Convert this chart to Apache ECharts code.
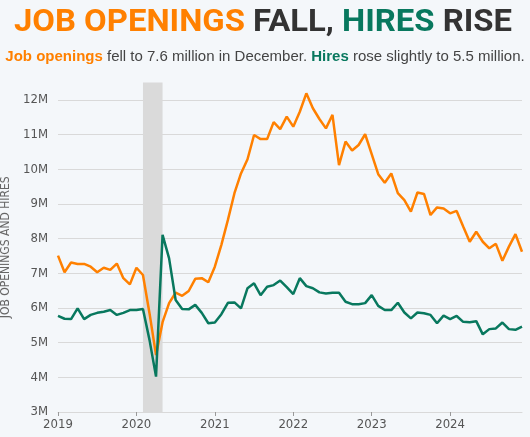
<!DOCTYPE html>
<html>
<head>
<meta charset="utf-8">
<script src="https://cdn.jsdelivr.net/npm/echarts@6/dist/echarts.min.js"></script>
<style>
  html, body { margin: 0; padding: 0; background: #f4f7fa; }
  #chart { width: 530px; height: 437px; }
</style>
</head>
<body>
<div id="chart"></div>
<script>
// monthly, Jan 2019 - Dec 2024
const months = [];
for (let y = 2019; y <= 2024; y++) {
  for (let m = 1; m <= 12; m++) months.push(y + '-' + String(m).padStart(2, '0'));
}

// job openings, millions
const openings = [
  7.51, 7.03, 7.31, 7.27, 7.27, 7.19, 7.03, 7.16, 7.10, 7.28, 6.86, 6.68,
  7.16, 6.95, 5.85, 4.64, 5.59, 6.14, 6.44, 6.35, 6.49, 6.84, 6.86, 6.74,
  7.19, 7.82, 8.54, 9.31, 9.88, 10.29, 10.99, 10.87, 10.87, 11.36, 11.16, 11.52,
  11.23, 11.66, 12.19, 11.76, 11.45, 11.18, 11.57, 10.12, 10.80, 10.54, 10.70, 11.01,
  10.44, 9.86, 9.61, 9.88, 9.31, 9.11, 8.78, 9.33, 9.29, 8.68, 8.90, 8.87,
  8.73, 8.80, 8.35, 7.91, 8.20, 7.91, 7.72, 7.85, 7.36, 7.77, 8.13, 7.62
];

// hires, millions
const hires = [
  5.77, 5.69, 5.68, 5.99, 5.68, 5.80, 5.86, 5.89, 5.94, 5.80, 5.86, 5.94,
  5.94, 5.97, 5.08, 4.02, 8.11, 7.43, 6.23, 5.97, 5.96, 6.09, 5.86, 5.56,
  5.58, 5.82, 6.15, 6.16, 5.99, 6.57, 6.71, 6.37, 6.61, 6.66, 6.79, 6.60,
  6.40, 6.86, 6.63, 6.57, 6.45, 6.42, 6.44, 6.44, 6.18, 6.11, 6.11, 6.14,
  6.37, 6.06, 5.94, 5.94, 6.15, 5.87, 5.70, 5.87, 5.85, 5.80, 5.56, 5.78,
  5.68, 5.77, 5.60, 5.59, 5.62, 5.24, 5.39, 5.41, 5.58, 5.39, 5.37, 5.46
];

const recession = ['2020-02', '2020-05'];

const ORANGE = '#ff8000';
const GREEN = '#08785e';
const DARK = '#333333';
const NARROW = "'DejaVu Sans Condensed', 'Liberation Sans', sans-serif";
const TITLE_FONT = 'Roboto';

// squeeze the headline to the reference width (condensed look)
const titleParts = ['JOB OPENINGS ', 'FALL, ', 'HIRES ', 'RISE'];
const ctx = document.createElement('canvas').getContext('2d');
ctx.font = 'bold 32px ' + TITLE_FONT;
const titleWidth = ctx.measureText(titleParts.join('')).width;
const titleScale = 498 / titleWidth;

const chart = echarts.init(document.getElementById('chart'));
chart.setOption({
  backgroundColor: '#f4f7fa',
  animation: false,
  title: {
    left: 'center',
    top: 44,
    text: '{ob|Job openings} {t|fell to 7.6 million in December.} {gb|Hires} {t|rose slightly to 5.5 million.}',
    textStyle: {
      fontSize: 15,
      fontWeight: 'normal',
      rich: {
        ob: { color: ORANGE, fontWeight: 'bold', fontSize: 15, fontFamily: 'Liberation Sans' },
        gb: { color: GREEN, fontWeight: 'bold', fontSize: 15, fontFamily: 'Liberation Sans' },
        t: { color: '#444', fontWeight: 'normal', fontSize: 15, fontFamily: 'Liberation Sans' }
      }
    }
  },
  graphic: [
    {
      type: 'text',
      x: 263,
      y: 7,
      scaleX: titleScale,
      style: {
        text: '{o|JOB OPENINGS }{d|FALL, }{g|HIRES }{d|RISE}',
        align: 'center',
        verticalAlign: 'top',
        rich: {
          o: { fill: ORANGE, fontFamily: TITLE_FONT, fontWeight: 'bold', fontSize: 32 },
          d: { fill: DARK, fontFamily: TITLE_FONT, fontWeight: 'bold', fontSize: 32 },
          g: { fill: GREEN, fontFamily: TITLE_FONT, fontWeight: 'bold', fontSize: 32 }
        }
      }
    }
  ],
  grid: { left: 58, right: 8, top: 82.6, bottom: 25, outerBoundsMode: 'none', containLabel: false },
  xAxis: {
    type: 'category',
    data: months,
    boundaryGap: false,
    axisLine: { lineStyle: { color: '#d9d9d9' } },
    axisTick: {
      interval: (i) => i % 12 === 0,
      length: 4,
      lineStyle: { color: '#999' }
    },
    axisLabel: {
      interval: (i) => i % 12 === 0,
      formatter: (v) => v.slice(0, 4),
      color: '#555',
      fontFamily: NARROW,
      fontSize: 13,
      margin: 6
    }
  },
  yAxis: {
    type: 'value',
    min: 3,
    max: 12.5,
    interval: 1,
    name: 'JOB OPENINGS AND HIRES',
    nameLocation: 'middle',
    nameGap: 44,
    nameTextStyle: { color: '#666', fontFamily: NARROW, fontSize: 12 },
    axisLine: { show: false },
    axisTick: { show: false },
    axisLabel: {
      showMaxLabel: false,
      formatter: (v) => (Number.isInteger(v) ? v + 'M' : ''),
      color: '#555',
      fontFamily: NARROW,
      fontSize: 13,
      margin: 10
    },
    splitLine: { showMaxLine: false, lineStyle: { color: '#d9d9d9', width: 1 } }
  },
  series: [
    {
      name: 'Job openings',
      type: 'line',
      data: openings,
      symbol: 'none',
      lineStyle: { color: ORANGE, width: 2.5 },
      markArea: {
        silent: true,
        itemStyle: { color: '#dadada' },
        data: [[{ xAxis: recession[0] }, { xAxis: recession[1] }]]
      },
      z: 2
    },
    {
      name: 'Hires',
      type: 'line',
      data: hires,
      symbol: 'none',
      lineStyle: { color: GREEN, width: 2.5 },
      z: 3
    }
  ]
});
</script>
</body>
</html>
